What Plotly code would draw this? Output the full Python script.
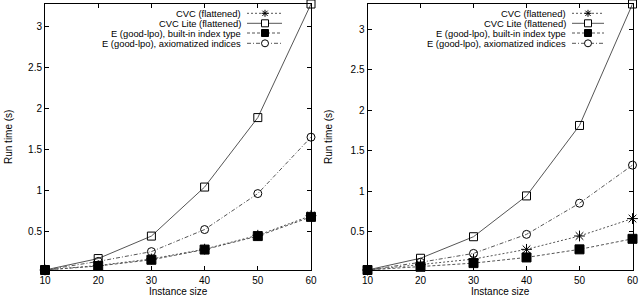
import plotly.graph_objects as go
from plotly.subplots import make_subplots

sizes = [10, 20, 30, 40, 50, 60]
series_names = [
    "CVC (flattened)",
    "CVC Lite (flattened)",
    "E (good-lpo), built-in index type",
    "E (good-lpo), axiomatized indices",
]
# left panel
left_cvc = [0.025, 0.08, 0.16, 0.28, 0.45, 0.69]
left_cvclite = [0.025, 0.165, 0.44, 1.04, 1.89, 3.28]
left_e_builtin = [0.025, 0.074, 0.15, 0.275, 0.44, 0.675]
left_e_axiom = [0.025, 0.13, 0.25, 0.52, 0.96, 1.65]
# right panel
right_cvc = [0.025, 0.09, 0.16, 0.28, 0.445, 0.66]
right_cvclite = [0.025, 0.17, 0.436, 0.94, 1.81, 3.31]
right_e_builtin = [0.025, 0.065, 0.11, 0.18, 0.28, 0.41]
right_e_axiom = [0.025, 0.12, 0.23, 0.465, 0.85, 1.32]

x_ticks = [10, 20, 30, 40, 50, 60]
y_ticks = [0.5, 1, 1.5, 2, 2.5, 3]
y_tick_labels = ["0.5", "1", "1.5", "2", "2.5", "3"]

W, H = 640, 298
FONT = "Liberation Sans, Arial, sans-serif"
LINE = "#555555"

styles = [
    dict(dash="2px,2px", symbol="asterisk-open", size=9, key="asterisk"),
    dict(dash="solid", symbol="square-open", size=8, key="square"),
    dict(dash="3px,2px", symbol="square", size=9, key="filled"),
    dict(dash="4px,2px,1px,2px", symbol="circle-open", size=8, key="circle"),
]

fig = make_subplots(rows=1, cols=2)

panels = [
    (1, [left_cvc, left_cvclite, left_e_builtin, left_e_axiom]),
    (2, [right_cvc, right_cvclite, right_e_builtin, right_e_axiom]),
]
draw_order = [1, 3, 0, 2]
for col, data in panels:
    for i in draw_order:
        st = styles[i]
        fig.add_trace(
            go.Scatter(
                x=sizes, y=data[i], mode="lines+markers", name=series_names[i],
                showlegend=False, cliponaxis=False,
                line=dict(color=LINE, width=1, dash=st["dash"]),
                marker=dict(symbol=st["symbol"], size=st["size"], color="black",
                            line=dict(color="black", width=1)),
            ),
            row=1, col=col,
        )

def px(x):
    return x / W

def py(y):
    return 1 - y / H

ydom = [py(270), py(4)]
xdoms = [[px(45), px(311)], [px(367.5), px(632.5)]]
yranges = [[0.025, max(left_cvclite)], [0.025, max(right_cvclite)]]

axis_common = dict(
    showline=True, linecolor="black", linewidth=1, mirror="ticks",
    ticks="inside", ticklen=4, tickcolor="black", showgrid=False, zeroline=False,
    tickfont=dict(family=FONT, size=10, color="black"), automargin=False,
)
for k in range(2):
    xa = "xaxis" if k == 0 else "xaxis2"
    ya = "yaxis" if k == 0 else "yaxis2"
    fig.layout[xa].update(domain=xdoms[k], range=[10, 60], tickvals=x_ticks,
                          ticklabelstandoff=1, **axis_common)
    fig.layout[ya].update(domain=ydom, range=yranges[k], tickvals=y_ticks,
                          ticktext=y_tick_labels, **axis_common)
    # axis titles
    x0, x1 = xdoms[k]
    fig.add_annotation(x=(x0 + x1) / 2, y=0, xref="paper", yref="paper",
                       text="Instance size", showarrow=False, xanchor="center", yanchor="bottom",
                       yshift=-1, font=dict(family=FONT, size=10, color="black"))
    fig.add_annotation(x=px(8 + 320 * k), y=py(137), xref="paper", yref="paper",
                       text="Run time (s)", showarrow=False, textangle=-90,
                       xanchor="center", yanchor="middle",
                       font=dict(family=FONT, size=10, color="black"))

def add_key(kind, cx, cy):
    r = 3.5
    if kind == "asterisk":
        for dx, dy in [(r, 0), (0, r), (r * 0.75, r * 0.75), (r * 0.75, -r * 0.75)]:
            fig.add_shape(type="line", xref="paper", yref="paper",
                          x0=px(cx - dx), x1=px(cx + dx), y0=py(cy - dy), y1=py(cy + dy),
                          line=dict(color="black", width=1))
    elif kind == "square":
        fig.add_shape(type="rect", xref="paper", yref="paper",
                      x0=px(cx - r), x1=px(cx + r), y0=py(cy + r), y1=py(cy - r),
                      line=dict(color="black", width=1), fillcolor="white")
    elif kind == "filled":
        fig.add_shape(type="rect", xref="paper", yref="paper",
                      x0=px(cx - r), x1=px(cx + r), y0=py(cy + r), y1=py(cy - r),
                      line=dict(color="black", width=1), fillcolor="black")
    else:
        fig.add_shape(type="circle", xref="paper", yref="paper",
                      x0=px(cx - r), x1=px(cx + r), y0=py(cy + r), y1=py(cy - r),
                      line=dict(color="black", width=1), fillcolor="white")

# custom legends (text left of sample, gnuplot style)
legend_rows = [13.3, 23.3, 33, 43.3]
legend_specs = [(243, 247, 282, 265), (568, 572, 604, 588)]
for text_end, l0, l1, mk in legend_specs:
    for i, yrow in enumerate(legend_rows):
        st = styles[i]
        fig.add_annotation(
            x=px(text_end), y=py(yrow), xref="paper", yref="paper",
            text=series_names[i], showarrow=False, xanchor="right", yanchor="middle",
            font=dict(family=FONT, size=9.4, color="black"),
        )
        fig.add_shape(
            type="line", xref="paper", yref="paper",
            x0=px(l0), x1=px(l1), y0=py(yrow), y1=py(yrow),
            line=dict(color=LINE, width=1, dash=st["dash"]),
        )
        add_key(st["key"], mk, yrow)

fig.update_layout(
    width=W, height=H, margin=dict(l=0, r=0, t=0, b=0),
    paper_bgcolor="white", plot_bgcolor="white",
    font=dict(family=FONT, size=10, color="black"),
    showlegend=False,
)

fig.write_html(
    "out.html",
    config={"displayModeBar": False},
    post_script="document.body.style.margin='0';document.body.style.overflow='hidden';",
)
